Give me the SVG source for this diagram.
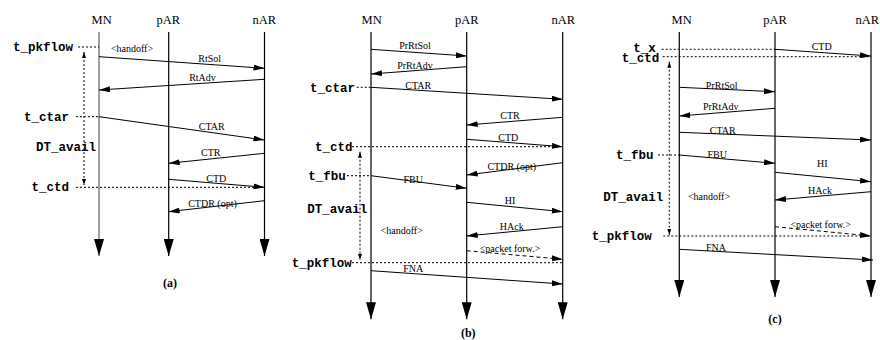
<svg xmlns="http://www.w3.org/2000/svg" width="880" height="340" viewBox="0 0 880 340">
<style>
.hd{font-family:"Liberation Serif","Times New Roman",serif;font-size:12.5px;text-anchor:middle;fill:#000}
.ml{font-family:"Liberation Serif","Times New Roman",serif;font-size:10px;text-anchor:middle;fill:#000}
.tl{font-family:"Liberation Mono","Courier New",monospace;font-size:12.5px;font-weight:bold;fill:#000}
.cap{font-family:"Liberation Serif","Times New Roman",serif;font-size:12px;font-weight:bold;text-anchor:middle;fill:#000}
.life{stroke:#000;stroke-width:1.2;fill:none;marker-end:url(#big)}
.msg{stroke:#000;stroke-width:1;fill:none;marker-end:url(#ah)}
.dash{stroke:#000;stroke-width:1;fill:none;stroke-dasharray:4,3;marker-end:url(#ah)}
.dot{stroke:#000;stroke-width:1;fill:none;stroke-dasharray:2,2}
.vdot{stroke:#000;stroke-width:1;fill:none;stroke-dasharray:2,2;marker-start:url(#sm);marker-end:url(#sm)}
</style>
<defs>
<marker id="ah" markerUnits="userSpaceOnUse" markerWidth="11" markerHeight="6" refX="11" refY="3" orient="auto"><path d="M0,0 L11,3 L0,6 z" fill="#000"/></marker>
<marker id="big" markerUnits="userSpaceOnUse" markerWidth="17" markerHeight="10" refX="17" refY="5" orient="auto"><path d="M0,0 L17,5 L0,10 z" fill="#000"/></marker>
<marker id="sm" markerUnits="userSpaceOnUse" markerWidth="6" markerHeight="4" refX="6" refY="2" orient="auto-start-reverse"><path d="M0,0 L6,2 L0,4 z" fill="#000"/></marker>
</defs>

<!-- Panel (a) -->
<g id="a-MN"><text class="hd" x="101.7" y="23.5">MN</text><line class="life" x1="99" y1="32" x2="99" y2="256" style="stroke:#808080;stroke-width:1.5"/></g>
<g id="a-pAR"><text class="hd" x="168.3" y="23.5">pAR</text><line class="life" x1="168.7" y1="32" x2="168.7" y2="256"/></g>
<g id="a-nAR"><text class="hd" x="264.2" y="23.5">nAR</text><line class="life" x1="264.5" y1="32" x2="264.5" y2="256"/></g>
<g id="a-times">
<text class="tl" x="13" y="51">t_pkflow</text>
<text class="tl" x="24" y="120.5">t_ctar</text>
<text class="tl" x="36" y="151">DT_avail</text>
<text class="tl" x="31.5" y="191">t_ctd</text>
</g>
<g id="a-connectors">
<line class="dot" x1="78" y1="47" x2="99" y2="47"/>
<line class="dot" x1="76" y1="116.7" x2="99" y2="116.7"/>
<line class="dot" x1="76" y1="187.3" x2="264.5" y2="187.3"/>
<line class="vdot" x1="84" y1="52" x2="84" y2="185"/>
<line class="msg" x1="99" y1="56.7" x2="264.5" y2="68.3"/>
<line class="msg" x1="264.5" y1="79.3" x2="99" y2="90"/>
<line class="msg" x1="99" y1="116.7" x2="264.5" y2="140"/>
<line class="msg" x1="264.5" y1="153.3" x2="168.7" y2="163.3"/>
<line class="msg" x1="168.7" y1="179.3" x2="264.5" y2="187.3"/>
<line class="msg" x1="264.5" y1="200.7" x2="168.7" y2="211.7"/>
</g>
<g id="a-labels">
<text class="ml" x="132" y="51.5">&lt;handoff&gt;</text>
<text class="ml" x="209.7" y="61.5">RtSol</text>
<text class="ml" x="202.5" y="80.5">RtAdv</text>
<text class="ml" x="211.7" y="130">CTAR</text>
<text class="ml" x="210.7" y="155.5">CTR</text>
<text class="ml" x="216.3" y="181.5">CTD</text>
<text class="ml" x="212.5" y="206.5">CTDR (opt)</text>
<text class="cap" x="170" y="286.5">(a)</text>
</g>

<!-- Panel (b) -->
<g id="b-MN"><text class="hd" x="371.7" y="23.5">MN</text><line class="life" x1="371" y1="32" x2="371" y2="319.3"/></g>
<g id="b-pAR"><text class="hd" x="466.7" y="23.5">pAR</text><line class="life" x1="466.7" y1="32" x2="466.7" y2="319.3"/></g>
<g id="b-nAR"><text class="hd" x="563.3" y="23.5">nAR</text><line class="life" x1="562.7" y1="32" x2="562.7" y2="319.3"/></g>
<g id="b-times">
<text class="tl" x="310" y="91.5">t_ctar</text>
<text class="tl" x="315" y="151">t_ctd</text>
<text class="tl" x="308.3" y="180">t_fbu</text>
<text class="tl" x="307.3" y="212.5">DT_avail</text>
<text class="tl" x="291.7" y="267">t_pkflow</text>
</g>
<g id="b-connectors">
<line class="dot" x1="356.7" y1="87.3" x2="371" y2="87.3"/>
<line class="dot" x1="352" y1="146.7" x2="562.7" y2="146.7"/>
<line class="dot" x1="347" y1="175.7" x2="371" y2="175.7"/>
<line class="dot" x1="352" y1="262.7" x2="562.7" y2="262.7"/>
<line class="vdot" x1="360" y1="151.7" x2="360" y2="260"/>
<line class="msg" x1="371" y1="49.3" x2="466.7" y2="56"/>
<line class="msg" x1="466.7" y1="66.7" x2="371" y2="74"/>
<line class="msg" x1="371" y1="87.3" x2="562.7" y2="99.3"/>
<line class="msg" x1="562.7" y1="117.3" x2="466.7" y2="125"/>
<line class="msg" x1="466.7" y1="139.3" x2="562.7" y2="146.7"/>
<line class="msg" x1="562.7" y1="162.7" x2="466.7" y2="175"/>
<line class="msg" x1="371" y1="175.7" x2="466.7" y2="188.3"/>
<line class="msg" x1="466.7" y1="202.3" x2="562.7" y2="211.7"/>
<line class="msg" x1="562.7" y1="226.7" x2="466.7" y2="236"/>
<line class="dash" x1="466.7" y1="250.7" x2="562.7" y2="259.3"/>
<line class="msg" x1="371" y1="270.7" x2="562.7" y2="284"/>
</g>
<g id="b-labels">
<text class="ml" x="415" y="49">PrRtSol</text>
<text class="ml" x="415" y="68.5">PrRtAdv</text>
<text class="ml" x="418.3" y="88.5">CTAR</text>
<text class="ml" x="510" y="118.5">CTR</text>
<text class="ml" x="508.3" y="140.5">CTD</text>
<text class="ml" x="511.7" y="169.5">CTDR (opt)</text>
<text class="ml" x="413.3" y="182.5">FBU</text>
<text class="ml" x="510" y="204">HI</text>
<text class="ml" x="401.7" y="234">&lt;handoff&gt;</text>
<text class="ml" x="511.7" y="229.5">HAck</text>
<text class="ml" x="510" y="251.5">&lt;packet forw.&gt;</text>
<text class="ml" x="413.3" y="271.5">FNA</text>
<text class="cap" x="468.3" y="336.5">(b)</text>
</g>

<!-- Panel (c) -->
<g id="c-MN"><text class="hd" x="681.7" y="23.5">MN</text><line class="life" x1="679.3" y1="32" x2="679.3" y2="297"/></g>
<g id="c-pAR"><text class="hd" x="775" y="23.5">pAR</text><line class="life" x1="775" y1="32" x2="775" y2="297"/></g>
<g id="c-nAR"><text class="hd" x="879" y="23.5" style="text-anchor:end">nAR</text><line class="life" x1="871" y1="32" x2="871" y2="297"/></g>
<g id="c-times">
<text class="tl" x="633.3" y="52">t_x</text>
<text class="tl" x="621.7" y="62">t_ctd</text>
<text class="tl" x="616" y="159">t_fbu</text>
<text class="tl" x="603.3" y="201">DT_avail</text>
<text class="tl" x="591.7" y="240">t_pkflow</text>
</g>
<g id="c-connectors">
<line class="dot" x1="661.7" y1="49.3" x2="775" y2="49.3"/>
<line class="dot" x1="662.7" y1="56.7" x2="871" y2="56.7"/>
<line class="dot" x1="658" y1="155" x2="679.3" y2="155"/>
<line class="dot" x1="663.3" y1="236" x2="871" y2="236"/>
<line class="vdot" x1="669.3" y1="61.7" x2="669.3" y2="235"/>
<line class="msg" x1="775" y1="49.3" x2="871" y2="56"/>
<line class="msg" x1="679.3" y1="87.3" x2="775" y2="91.7"/>
<line class="msg" x1="775" y1="108.3" x2="679.3" y2="116"/>
<line class="msg" x1="679.3" y1="132.3" x2="871" y2="140"/>
<line class="msg" x1="679.3" y1="155" x2="775" y2="163.3"/>
<line class="msg" x1="775" y1="172.3" x2="871" y2="181.7"/>
<line class="msg" x1="871" y1="191.7" x2="775" y2="200"/>
<line class="dash" x1="775" y1="226.7" x2="871" y2="236"/>
<line class="msg" x1="679.3" y1="249.3" x2="873" y2="260"/>
</g>
<g id="c-labels">
<text class="ml" x="821.7" y="50">CTD</text>
<text class="ml" x="721.7" y="88.5">PrRtSol</text>
<text class="ml" x="720.7" y="110">PrRtAdv</text>
<text class="ml" x="722.7" y="134">CTAR</text>
<text class="ml" x="717.3" y="157.5">FBU</text>
<text class="ml" x="822.3" y="167">HI</text>
<text class="ml" x="709" y="200">&lt;handoff&gt;</text>
<text class="ml" x="820" y="194">HAck</text>
<text class="ml" x="820.7" y="227.5">&lt;packet forw.&gt;</text>
<text class="ml" x="716" y="250.5">FNA</text>
<text class="cap" x="775" y="323">(c)</text>
</g>
</svg>
